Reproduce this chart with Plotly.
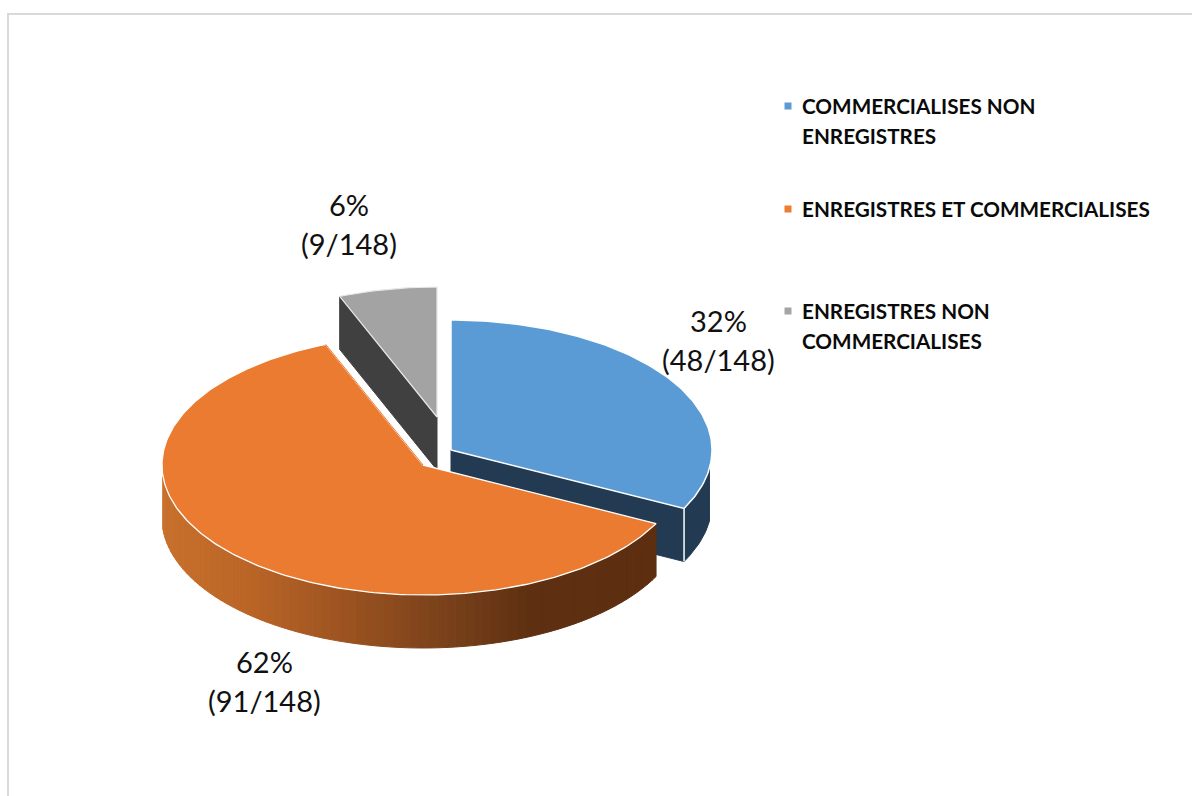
import math
import plotly.graph_objects as go

# Counts per registration / marketing status
categories = ["COMMERCIALISES NON<br>ENREGISTRES", "ENREGISTRES ET COMMERCIALISES", "ENREGISTRES NON<br>COMMERCIALISES"]
counts = [48, 91, 9]
total = 148
percent_labels = ["32%", "62%", "6%"]

top_colors = ["#5b9bd5", "#ea7b30", "#a3a3a3"]
marker_colors = ["#5b9bd5", "#ed7d31", "#a5a5a5"]
wall_colors = ["#223a52", None, "#404040"]

# Tilted-disc geometry, in page pixels
RX, RY, DEPTH = 261, 130, 53
CENTRES = [(451, 450), (423, 465), (437, 417)]
LABEL_POS = [(718, 320), (264, 661), (349, 204)]
LABEL_GAP = 39
LEGEND_X, LEGEND_Y, LEGEND_LINE = 800, [106, 209, 311], 30

# Shading of the orange rim, left to right
RIM_STOPS = [(162, (200, 112, 44)), (250, (186, 101, 39)), (350, (154, 82, 32)),
             (450, (119, 64, 26)), (530, (94, 48, 17)), (656, (93, 47, 16))]


def rim(c, theta, drop=0.0):
    t = math.radians(theta)
    return c[0] + RX * math.sin(t), c[1] - RY * math.cos(t) + drop


def arc(c, a0, a1, drop=0.0, step=1.0):
    n = max(2, int(abs(a1 - a0) / step) + 1)
    return [rim(c, a0 + (a1 - a0) * i / (n - 1), drop) for i in range(n)]


def rim_colour(x):
    for (x0, c0), (x1, c1) in zip(RIM_STOPS, RIM_STOPS[1:]):
        if x <= x1:
            f = max(0.0, (x - x0) / (x1 - x0))
            return "rgb(%d,%d,%d)" % tuple(round(a + (b - a) * f) for a, b in zip(c0, c1))
    return "rgb(%d,%d,%d)" % RIM_STOPS[-1][1]


def poly(points, fill, line=None, width=1.0):
    xs, ys = zip(*points)
    return go.Scatter(x=list(xs) + [xs[0]], y=list(ys) + [ys[0]], mode="lines", fill="toself",
                      fillcolor=fill, line=dict(color=line or fill, width=width),
                      hoverinfo="skip", showlegend=False)


# Slice boundaries: clockwise from twelve o'clock
angles = [0.0]
for v in counts:
    angles.append(angles[-1] + 360.0 * v / total)

fig = go.Figure()

# Grey slice: cut wall, then top face
c = CENTRES[2]
a0, a1 = angles[2], angles[3]
edge = rim(c, a0)
fig.add_trace(poly([c, edge, (edge[0], edge[1] + DEPTH), (c[0], c[1] + DEPTH)], wall_colors[2]))
fig.add_trace(poly([c] + arc(c, a0, a1), top_colors[2], "#e8e8e8", 1.2))

# Blue slice: cut wall, outer rim, top face
c = CENTRES[0]
a0, a1 = angles[0], angles[1]
edge = rim(c, a1)
fig.add_trace(poly([c, edge, (edge[0], edge[1] + DEPTH), (c[0], c[1] + DEPTH)], wall_colors[0]))
outer = arc(c, a1, 98)
fig.add_trace(poly(outer + [(x, y + DEPTH) for x, y in reversed(outer)], wall_colors[0]))
fig.add_trace(go.Scatter(x=[edge[0], edge[0]], y=[edge[1], edge[1] + DEPTH], mode="lines",
                         line=dict(color="white", width=1.5), hoverinfo="skip", showlegend=False))
fig.add_trace(poly([c] + arc(c, a0, a1), top_colors[0], "white", 1.5))

# Orange slice: shaded rim built from narrow strips, then top face
c = CENTRES[1]
a0, a1 = angles[1], angles[2]
rim_end = 265.0
theta = a0
while theta < rim_end:
    nxt = min(theta + 2.0, rim_end)
    top = arc(c, theta, nxt, step=0.5)
    colour = rim_colour((top[0][0] + top[-1][0]) / 2)
    fig.add_trace(poly(top + [(x, y + DEPTH) for x, y in reversed(top)], colour, colour, 1.0))
    theta = nxt
fig.add_trace(poly([c] + arc(c, a0, a1), top_colors[1], "white", 1.3))
# The white outline only shows against the dark walls
upper = [c, rim(c, a1)]
fig.add_trace(go.Scatter(x=[p[0] for p in upper], y=[p[1] for p in upper], mode="lines",
                         line=dict(color=top_colors[1], width=1.0), hoverinfo="skip", showlegend=False))

# Legend swatches
fig.add_trace(go.Scatter(x=[LEGEND_X - 12] * 3, y=LEGEND_Y, mode="markers",
                         marker=dict(symbol="square", size=7, color=marker_colors),
                         hoverinfo="skip", showlegend=False))

annotations = []
for (x, y), pct, n in zip(LABEL_POS, percent_labels, counts):
    for k, text in enumerate([pct, f"({n}/{total})"]):
        annotations.append(dict(x=x, y=y + k * LABEL_GAP, xref="x", yref="y", text=text, showarrow=False,
                                xanchor="center", yanchor="middle",
                                font=dict(family="Lato", size=29, color="#111111")))
for name, y in zip(categories, LEGEND_Y):
    for k, text in enumerate(name.split("<br>")):
        annotations.append(dict(x=LEGEND_X, y=y + k * LEGEND_LINE, xref="x", yref="y", text=f"<b>{text}</b>",
                                showarrow=False, xanchor="left", yanchor="middle",
                                font=dict(family="Lato", size=20.7, color="#0a0a0a", weight=900)))

# Chart-area frame, open at the right and bottom of the page
frame = [dict(type="line", xref="x", yref="y", x0=8, x1=8, y0=13, y1=796, line=dict(color="#d9d9d9", width=2)),
         dict(type="line", xref="x", yref="y", x0=7, x1=1192, y0=14, y1=14, line=dict(color="#d9d9d9", width=2))]

fig.update_layout(width=1192, height=796, margin=dict(l=0, r=0, t=0, b=0), autosize=False,
                  paper_bgcolor="white", plot_bgcolor="white", showlegend=False,
                  xaxis=dict(range=[0, 1192], visible=False, fixedrange=True),
                  yaxis=dict(range=[796, 0], visible=False, fixedrange=True),
                  annotations=annotations, shapes=frame)

fig.write_html("out.html", config=dict(displayModeBar=False))
